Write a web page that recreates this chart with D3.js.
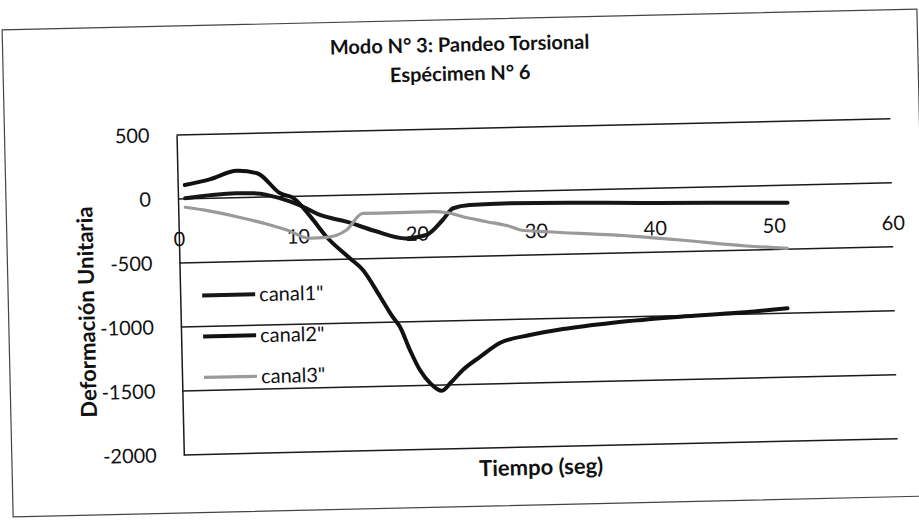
<!DOCTYPE html>
<html>
<head>
<meta charset="utf-8">
<script src="https://cdn.jsdelivr.net/npm/d3@7/dist/d3.min.js"></script>
<style>
  html, body { margin: 0; padding: 0; background: #fff; }
  svg { display: block; }
  text { font-family: Lato, "Open Sans", sans-serif; fill: #111; }
</style>
</head>
<body>
<svg id="chart" width="919" height="522"></svg>
<script>
// Strain readings per channel: time (s) and microstrain
const canal1T = [0.6, 4.9, 6.6, 8.6, 10.2, 11.9, 14.1, 16.5, 19.1, 20.8, 22.2, 23.1, 24.5, 27.9, 40.2, 51.2];
const canal1V = [4, 34, 30, -13, -69, -150, -207, -285, -348, -325, -211, -121, -99, -92, -116, -137];

const canal2T = [0.6, 2.7, 5.0, 6.7, 8.6, 9.7, 11.1, 12.4, 14.3, 15.4, 16.8, 17.8, 18.4, 19.2, 20.0, 20.9, 21.8, 22.6, 23.6, 25.1, 26.8, 29.3, 32.1, 36.3, 42.0, 46.2, 51.0];
const canal2V = [108, 148, 210, 187, 26, -13, -161, -321, -491, -587, -799, -957, -1037, -1221, -1379, -1490, -1545, -1480, -1386, -1285, -1180, -1125, -1084, -1043, -1008, -991, -962];

const canal3T = [0.6, 2.1, 4.9, 7.7, 9.1, 11.0, 12.4, 14.1, 15.5, 18.4, 21.2, 22.6, 23.9, 25.9, 27.9, 28.7, 30.9, 36.5, 42.1, 47.7, 51.1];
const canal3V = [-66, -90, -149, -219, -261, -330, -326, -272, -145, -146, -144, -155, -189, -232, -275, -303, -321, -358, -409, -468, -493];

const seriesNames = ['canal1"', 'canal2"', 'canal3"'];
const xTicks = [0, 10, 20, 30, 40, 50, 60];
const yTicks = [500, 0, -500, -1000, -1500, -2000];

const titleLines = ["Modo N° 3: Pandeo Torsional", "Espécimen N° 6"];
const yTitle = "Deformación Unitaria";
const xTitle = "Tiempo (seg)";

const svg = d3.select("#chart");
svg.append("rect").attr("width", 919).attr("height", 522).attr("fill", "#fff");

// the printed page sits slightly askew on the scanner bed
const root = svg.append("g").attr("transform", "rotate(-1.3, 178, 199)");

// chart frame
root.append("rect")
  .attr("x", 6).attr("y", 26).attr("width", 915).attr("height", 487)
  .attr("fill", "none").attr("stroke", "#444").attr("stroke-width", 1.2);

const plot = { left: 178, right: 892, top: 135, bottom: 455 };
const x = d3.scaleLinear().domain([0, 60]).range([plot.left, plot.right]);
const y = d3.scaleLinear().domain([-2000, 500]).range([plot.bottom, plot.top]);
const plain = d => String(d);

// horizontal gridlines
root.append("g").selectAll("line").data(yTicks).join("line")
  .attr("x1", plot.left).attr("x2", plot.right)
  .attr("y1", d => y(d)).attr("y2", d => y(d))
  .attr("stroke", "#1a1a1a").attr("stroke-width", 1.5);

// vertical axis
const yAxis = root.append("g").attr("transform", `translate(${plot.left},0)`)
  .call(d3.axisLeft(y).tickValues(yTicks).tickFormat(plain).tickSize(0).tickSizeOuter(0).tickPadding(27));
yAxis.select(".domain").attr("stroke", "#1a1a1a").attr("stroke-width", 1.5);
yAxis.selectAll("text").attr("font-size", 20).attr("font-family", "Lato, sans-serif").attr("fill", "#111");

// horizontal axis labels, crossing at zero
const xAxis = root.append("g").attr("transform", `translate(0,${y(0)})`)
  .call(d3.axisBottom(x).tickValues(xTicks).tickFormat(plain).tickSize(0).tickPadding(33));
xAxis.select(".domain").remove();
xAxis.selectAll("text").attr("font-size", 20).attr("font-family", "Lato, sans-serif").attr("fill", "#111");

// series
const line = d3.line().x(d => x(d[0])).y(d => y(d[1])).curve(d3.curveMonotoneX);
const series = [
  { name: seriesNames[0], pts: d3.zip(canal1T, canal1V), color: "#161616", width: 4 },
  { name: seriesNames[1], pts: d3.zip(canal2T, canal2V), color: "#111", width: 4 },
  { name: seriesNames[2], pts: d3.zip(canal3T, canal3V), color: "#9a9a9a", width: 3.2 }
];
root.append("g").selectAll("path").data(series).join("path")
  .attr("d", d => line(d.pts))
  .attr("fill", "none")
  .attr("stroke", d => d.color)
  .attr("stroke-width", d => d.width)
  .attr("stroke-linejoin", "round")
  .attr("stroke-linecap", "round");

// legend
const legend = root.append("g").attr("transform", "translate(200,296)");
const item = legend.selectAll("g").data(series).join("g")
  .attr("transform", (d, i) => `translate(0,${i * 41})`);
item.append("line").attr("x1", 0).attr("x2", 53).attr("y1", 0).attr("y2", 0)
  .attr("stroke", d => d.color).attr("stroke-width", d => d.width);
item.append("text").attr("x", 57).attr("y", 7).attr("font-size", 20).text(d => d.name);

// titles
root.append("g").selectAll("text").data(titleLines).join("text")
  .attr("x", 463).attr("y", (d, i) => 58 + i * 29)
  .attr("text-anchor", "middle").attr("font-size", 20).attr("font-weight", 700)
  .text(d => d);

root.append("text")
  .attr("transform", "translate(92,310) rotate(-90)")
  .attr("text-anchor", "middle").attr("font-size", 22).attr("font-weight", 700)
  .text(yTitle);

root.append("text")
  .attr("x", (plot.left + plot.right) / 2).attr("y", 483)
  .attr("text-anchor", "middle").attr("font-size", 22).attr("font-weight", 700)
  .text(xTitle);
</script>
</body>
</html>
